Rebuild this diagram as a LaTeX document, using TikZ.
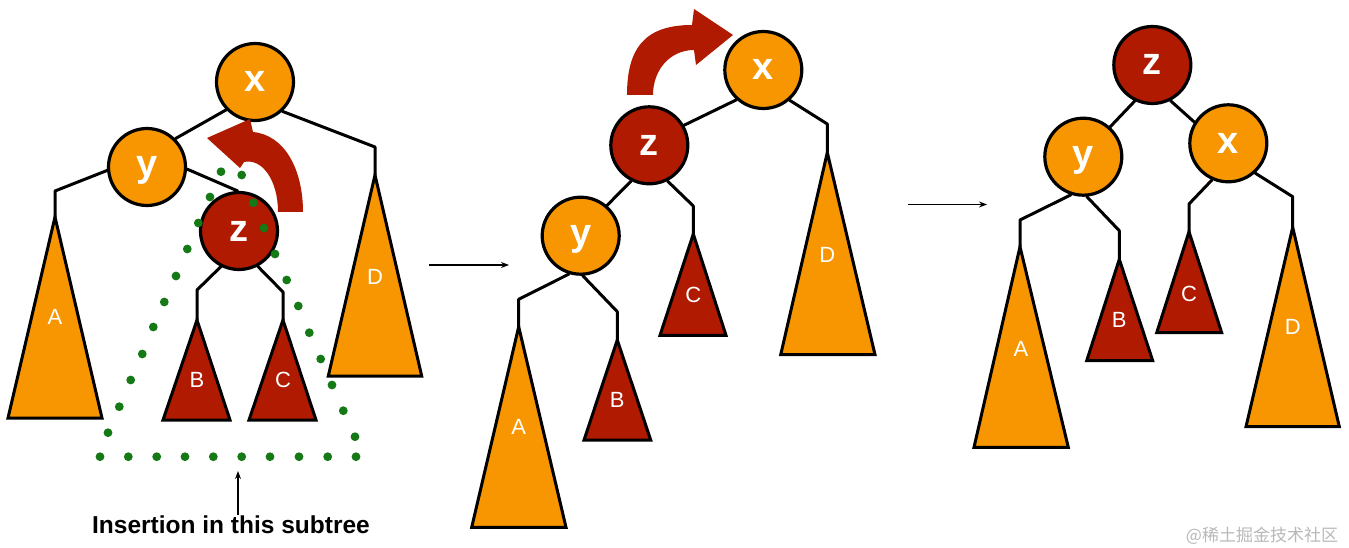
\documentclass[tikz,border=0pt]{standalone}
\usepackage{fontspec}
\setmainfont{Liberation Sans}
\newfontfamily\cjkfont{Noto Sans CJK SC}
\usetikzlibrary{arrows.meta}
\definecolor{torange}{RGB}{247,150,0}
\definecolor{tred}{RGB}{175,26,0}
\definecolor{tgreen}{RGB}{21,122,21}
\begin{document}
\begin{tikzpicture}[x=1pt,y=-1pt,
  keynode/.style={circle,draw=black,line width=3.2pt,minimum size=77pt,inner sep=0pt,text=white,
    font=\bfseries\fontsize{38}{38}\selectfont,text height=20pt,text depth=0pt},
  onode/.style={keynode,fill=torange},
  rnode/.style={keynode,fill=tred},
  treeedge/.style={line width=3pt,line join=round,line cap=round},
  otree/.style={draw=black,fill=torange,line width=3pt,line join=miter},
  rtree/.style={draw=black,fill=tred,line width=3pt,line join=miter},
  tlabel/.style={text=white,font=\fontsize{22}{22}\selectfont,text height=15.8pt,text depth=0pt,inner sep=0pt},
  rotarrow/.style={fill=tred},
  gdot/.style={fill=tgreen},
  thinarrow/.style={line width=1.2pt,-{Stealth[length=8pt,width=6pt]}},
]
\useasboundingbox (0,0) rectangle (1349,548);

% ================= left tree =================
\coordinate (LAtop) at (55,217);   \coordinate (LAbend) at (55,191);
\coordinate (LBtop) at (197,320);  \coordinate (LBbend) at (197,290);
\coordinate (LCtop) at (283,320);  \coordinate (LCbend) at (283,292);
\coordinate (LDtop) at (375,175);  \coordinate (LDbend) at (375,147);

\node[onode] (Lx) at (255,82) {x};
\node[onode] (Ly) at (147,167) {y};
\node[rnode] (Lz) at (239,231) {z};

\draw[treeedge] (Lx.224) -- (Ly.45);
\draw[treeedge] (Lx.313) -- (LDbend) -- (LDtop);
\draw[treeedge] (Ly.185) -- (LAbend) -- (LAtop);
\draw[treeedge] (Ly.357) -- (Lz.92);
\draw[treeedge] (Lz.243) -- (LBbend) -- (LBtop);
\draw[treeedge] (Lz.298) -- (LCbend) -- (LCtop);

\draw[otree] (LAtop) -- (102,418) -- (8,418) -- cycle;
\draw[rtree] (LBtop) -- (230,420) -- (163,420) -- cycle;
\draw[rtree] (LCtop) -- (316,420) -- (249,420) -- cycle;
\draw[otree] (LDtop) -- (421.7,376) -- (328.3,376) -- cycle;
\node[tlabel] (LAl) at (55,317) {A};
\node[tlabel] (LBl) at (197,380) {B};
\node[tlabel] (LCl) at (283,380) {C};
\node[tlabel] (LDl) at (375,277) {D};

% rotation arrow (left)
\fill[rotarrow] (303,212) .. controls (303,170) and (285,135) .. (253,132)
  -- (250,119) -- (207,138) -- (240,168) -- (244,162)
  .. controls (262,158) and (278,180) .. (278,212) -- cycle;

% dotted subtree outline
\foreach \dx/\dy in {100/456.7,128.3/456.7,156.7/456.7,185/456.7,213.3/456.7,241.7/456.7,270/456.7,299/456.7,327.7/456.7,356/456.7,
  108/432.7,119.3/406.7,130.7/380,142.3/354,153.3/327,164.3/302,176/276,187.3/249,198.3/223,210/197,221/171.7,
  241.7/175,253.3/202.7,264/228,275/254,286.7/280,298.3/306,309.3/332.7,320.7/359,332/385,343.3/410.7,355/436.7}
  \fill[gdot] (\dx,\dy) circle[radius=4.4];

\node[font=\bfseries\fontsize{24.5}{24.5}\selectfont,anchor=base,inner sep=0pt] (ins) at (231,533) {Insertion in this subtree};
\coordinate (instip) at (238,471);
\draw[thinarrow] (ins.north -| instip) -- (instip);

% arrow left -> middle
\coordinate (a1s) at (429,265); \coordinate (a1e) at (509,265);
\draw[thinarrow] (a1s) -- (a1e);

% ================= middle tree =================
\coordinate (MAtop) at (518.7,326.7); \coordinate (MAbend) at (518.7,299.3);
\coordinate (MBtop) at (617.3,340);   \coordinate (MBbend) at (617.3,311.7);
\coordinate (MCtop) at (693.3,234);   \coordinate (MCbend) at (693.3,206);
\coordinate (MDtop) at (827.3,152.5); \coordinate (MDbend) at (827.3,124);

\node[onode] (Mx) at (763.3,70) {x};
\node[rnode] (Mz) at (649.3,145.3) {z};
\node[onode] (My) at (580.7,235.7) {y};

\draw[treeedge] (Mx.228) -- (Mz.30);
\draw[treeedge] (Mx.311) -- (MDbend) -- (MDtop);
\draw[treeedge] (Mz.243.6) -- (My.49);
\draw[treeedge] (Mz.297.6) -- (MCbend) -- (MCtop);
\draw[treeedge] (My.253) -- (MAbend) -- (MAtop);
\draw[treeedge] (My.273.5) -- (MBbend) -- (MBtop);

\draw[otree] (MAtop) -- (566,527.3) -- (471.7,527.3) -- cycle;
\draw[rtree] (MBtop) -- (650.7,440) -- (584,440) -- cycle;
\draw[rtree] (MCtop) -- (726,335.3) -- (660,335.3) -- cycle;
\draw[otree] (MDtop) -- (875,354.7) -- (780.7,354.7) -- cycle;
\node[tlabel] (MAl) at (518.7,426.7) {A};
\node[tlabel] (MBl) at (617.3,399.3) {B};
\node[tlabel] (MCl) at (693.3,295) {C};
\node[tlabel] (MDl) at (827.3,255) {D};

% rotation arrow (middle)
\fill[rotarrow] (627,95) .. controls (627,48) and (645,25) .. (692,25)
  -- (694,9) -- (733,35) -- (696,65) -- (694,50)
  .. controls (670,50) and (653,70) .. (653,95) -- cycle;

% arrow middle -> right
\coordinate (a2s) at (908,204.5); \coordinate (a2e) at (987,204.5);
\draw[thinarrow] (a2s) -- (a2e);

% ================= right tree =================
\coordinate (RAtop) at (1020,246.7);   \coordinate (RAbend) at (1020,220);
\coordinate (RBtop) at (1119.3,259.3); \coordinate (RBbend) at (1119.3,230.7);
\coordinate (RCtop) at (1189,231.7);   \coordinate (RCbend) at (1189,204);
\coordinate (RDtop) at (1292.7,227.3); \coordinate (RDbend) at (1292.7,196.7);

\node[rnode] (Rz) at (1152.3,65) {z};
\node[onode] (Ry) at (1083.3,156.7) {y};
\node[onode] (Rx) at (1228.3,143.3) {x};

\draw[treeedge] (Rz.244) -- (Ry.48.3);
\draw[treeedge] (Rz.297) -- (Rx.148.8);
\draw[treeedge] (Ry.252) -- (RAbend) -- (RAtop);
\draw[treeedge] (Ry.275.4) -- (RBbend) -- (RBtop);
\draw[treeedge] (Rx.246.6) -- (RCbend) -- (RCtop);
\draw[treeedge] (Rx.312) -- (RDbend) -- (RDtop);

\draw[otree] (RAtop) -- (1068.3,447.3) -- (974,447.3) -- cycle;
\draw[rtree] (RBtop) -- (1152.7,360.7) -- (1086.7,360.7) -- cycle;
\draw[rtree] (RCtop) -- (1221.7,332.7) -- (1156.7,332.7) -- cycle;
\draw[otree] (RDtop) -- (1339.3,426.7) -- (1246,426.7) -- cycle;
\node[tlabel] (RAl) at (1021,348.3) {A};
\node[tlabel] (RBl) at (1119.3,320) {B};
\node[tlabel] (RCl) at (1189,293.3) {C};
\node[tlabel] (RDl) at (1292.7,326.7) {D};

% watermark
\node[text=black!28,font=\cjkfont\fontsize{17}{17}\selectfont,inner sep=0pt] (wm) at (1262,536) {@稀土掘金技术社区};
\end{tikzpicture}
\end{document}
